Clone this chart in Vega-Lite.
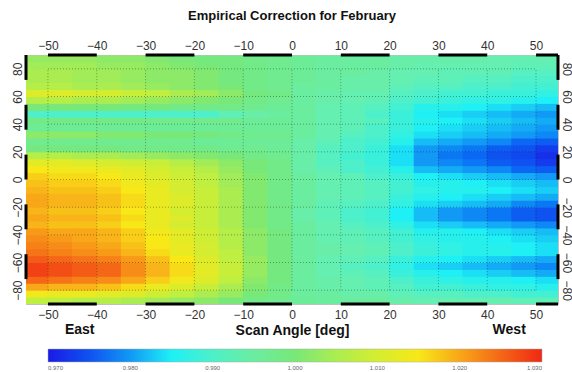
{
"$schema":"https://vega.github.io/schema/vega-lite/v6.json",
"width":532,"height":249,"autosize":"none",
"padding":{"left":26,"top":55,"right":14,"bottom":68},
"background":"white",
"title":{"text":"Empirical Correction for February","fontSize":13,"fontWeight":"bold","color":"#111","anchor":"middle","offset":16},
"config":{"font":"Liberation Sans","view":{"stroke":"#c0c0c0","strokeWidth":1},"rect":{"binSpacing":0},
"axis":{"ticks":false,"domain":false,"grid":false,"labelFontSize":12,"labelColor":"#333","labelFont":"Liberation Sans"}},
"datasets":{
"heat":[
{"a":-52.5,"l":87.5,"v":1.003},{"a":-47.5,"l":87.5,"v":1.003},{"a":-42.5,"l":87.5,"v":1.003},{"a":-37.5,"l":87.5,"v":1.002},{"a":-32.5,"l":87.5,"v":1.002},{"a":-27.5,"l":87.5,"v":1.001},{"a":-22.5,"l":87.5,"v":1.000},{"a":-17.5,"l":87.5,"v":0.999},{"a":-12.5,"l":87.5,"v":0.999},{"a":-7.5,"l":87.5,"v":0.998},{"a":-2.5,"l":87.5,"v":0.997},{"a":2.5,"l":87.5,"v":0.996},{"a":7.5,"l":87.5,"v":0.995},{"a":12.5,"l":87.5,"v":0.995},{"a":17.5,"l":87.5,"v":0.995},{"a":22.5,"l":87.5,"v":0.994},{"a":27.5,"l":87.5,"v":0.994},{"a":32.5,"l":87.5,"v":0.994},{"a":37.5,"l":87.5,"v":0.994},{"a":42.5,"l":87.5,"v":0.993},{"a":47.5,"l":87.5,"v":0.993},{"a":52.5,"l":87.5,"v":0.993},
{"a":-52.5,"l":82.5,"v":1.004},{"a":-47.5,"l":82.5,"v":1.004},{"a":-42.5,"l":82.5,"v":1.004},{"a":-37.5,"l":82.5,"v":1.003},{"a":-32.5,"l":82.5,"v":1.003},{"a":-27.5,"l":82.5,"v":1.002},{"a":-22.5,"l":82.5,"v":1.001},{"a":-17.5,"l":82.5,"v":1.000},{"a":-12.5,"l":82.5,"v":0.999},{"a":-7.5,"l":82.5,"v":0.998},{"a":-2.5,"l":82.5,"v":0.997},{"a":2.5,"l":82.5,"v":0.996},{"a":7.5,"l":82.5,"v":0.995},{"a":12.5,"l":82.5,"v":0.995},{"a":17.5,"l":82.5,"v":0.995},{"a":22.5,"l":82.5,"v":0.994},{"a":27.5,"l":82.5,"v":0.993},{"a":32.5,"l":82.5,"v":0.993},{"a":37.5,"l":82.5,"v":0.993},{"a":42.5,"l":82.5,"v":0.993},{"a":47.5,"l":82.5,"v":0.992},{"a":52.5,"l":82.5,"v":0.992},
{"a":-52.5,"l":77.5,"v":1.005},{"a":-47.5,"l":77.5,"v":1.005},{"a":-42.5,"l":77.5,"v":1.004},{"a":-37.5,"l":77.5,"v":1.004},{"a":-32.5,"l":77.5,"v":1.003},{"a":-27.5,"l":77.5,"v":1.002},{"a":-22.5,"l":77.5,"v":1.002},{"a":-17.5,"l":77.5,"v":1.001},{"a":-12.5,"l":77.5,"v":0.999},{"a":-7.5,"l":77.5,"v":0.998},{"a":-2.5,"l":77.5,"v":0.997},{"a":2.5,"l":77.5,"v":0.996},{"a":7.5,"l":77.5,"v":0.995},{"a":12.5,"l":77.5,"v":0.995},{"a":17.5,"l":77.5,"v":0.994},{"a":22.5,"l":77.5,"v":0.993},{"a":27.5,"l":77.5,"v":0.993},{"a":32.5,"l":77.5,"v":0.992},{"a":37.5,"l":77.5,"v":0.992},{"a":42.5,"l":77.5,"v":0.992},{"a":47.5,"l":77.5,"v":0.991},{"a":52.5,"l":77.5,"v":0.991},
{"a":-52.5,"l":72.5,"v":1.005},{"a":-47.5,"l":72.5,"v":1.005},{"a":-42.5,"l":72.5,"v":1.004},{"a":-37.5,"l":72.5,"v":1.004},{"a":-32.5,"l":72.5,"v":1.003},{"a":-27.5,"l":72.5,"v":1.002},{"a":-22.5,"l":72.5,"v":1.002},{"a":-17.5,"l":72.5,"v":1.001},{"a":-12.5,"l":72.5,"v":0.999},{"a":-7.5,"l":72.5,"v":0.998},{"a":-2.5,"l":72.5,"v":0.997},{"a":2.5,"l":72.5,"v":0.996},{"a":7.5,"l":72.5,"v":0.995},{"a":12.5,"l":72.5,"v":0.994},{"a":17.5,"l":72.5,"v":0.994},{"a":22.5,"l":72.5,"v":0.993},{"a":27.5,"l":72.5,"v":0.992},{"a":32.5,"l":72.5,"v":0.992},{"a":37.5,"l":72.5,"v":0.991},{"a":42.5,"l":72.5,"v":0.991},{"a":47.5,"l":72.5,"v":0.990},{"a":52.5,"l":72.5,"v":0.990},
{"a":-52.5,"l":67.5,"v":1.006},{"a":-47.5,"l":67.5,"v":1.006},{"a":-42.5,"l":67.5,"v":1.005},{"a":-37.5,"l":67.5,"v":1.005},{"a":-32.5,"l":67.5,"v":1.004},{"a":-27.5,"l":67.5,"v":1.003},{"a":-22.5,"l":67.5,"v":1.002},{"a":-17.5,"l":67.5,"v":1.001},{"a":-12.5,"l":67.5,"v":1.000},{"a":-7.5,"l":67.5,"v":0.998},{"a":-2.5,"l":67.5,"v":0.997},{"a":2.5,"l":67.5,"v":0.995},{"a":7.5,"l":67.5,"v":0.995},{"a":12.5,"l":67.5,"v":0.994},{"a":17.5,"l":67.5,"v":0.994},{"a":22.5,"l":67.5,"v":0.992},{"a":27.5,"l":67.5,"v":0.991},{"a":32.5,"l":67.5,"v":0.991},{"a":37.5,"l":67.5,"v":0.990},{"a":42.5,"l":67.5,"v":0.990},{"a":47.5,"l":67.5,"v":0.989},{"a":52.5,"l":67.5,"v":0.989},
{"a":-52.5,"l":62.5,"v":1.011},{"a":-47.5,"l":62.5,"v":1.011},{"a":-42.5,"l":62.5,"v":1.010},{"a":-37.5,"l":62.5,"v":1.010},{"a":-32.5,"l":62.5,"v":1.008},{"a":-27.5,"l":62.5,"v":1.007},{"a":-22.5,"l":62.5,"v":1.005},{"a":-17.5,"l":62.5,"v":1.004},{"a":-12.5,"l":62.5,"v":1.002},{"a":-7.5,"l":62.5,"v":0.999},{"a":-2.5,"l":62.5,"v":0.998},{"a":2.5,"l":62.5,"v":0.995},{"a":7.5,"l":62.5,"v":0.994},{"a":12.5,"l":62.5,"v":0.993},{"a":17.5,"l":62.5,"v":0.993},{"a":22.5,"l":62.5,"v":0.991},{"a":27.5,"l":62.5,"v":0.990},{"a":32.5,"l":62.5,"v":0.989},{"a":37.5,"l":62.5,"v":0.989},{"a":42.5,"l":62.5,"v":0.988},{"a":47.5,"l":62.5,"v":0.988},{"a":52.5,"l":62.5,"v":0.987},
{"a":-52.5,"l":57.5,"v":1.006},{"a":-47.5,"l":57.5,"v":1.006},{"a":-42.5,"l":57.5,"v":1.005},{"a":-37.5,"l":57.5,"v":1.005},{"a":-32.5,"l":57.5,"v":1.004},{"a":-27.5,"l":57.5,"v":1.003},{"a":-22.5,"l":57.5,"v":1.002},{"a":-17.5,"l":57.5,"v":1.001},{"a":-12.5,"l":57.5,"v":1.000},{"a":-7.5,"l":57.5,"v":0.998},{"a":-2.5,"l":57.5,"v":0.997},{"a":2.5,"l":57.5,"v":0.995},{"a":7.5,"l":57.5,"v":0.994},{"a":12.5,"l":57.5,"v":0.993},{"a":17.5,"l":57.5,"v":0.992},{"a":22.5,"l":57.5,"v":0.990},{"a":27.5,"l":57.5,"v":0.989},{"a":32.5,"l":57.5,"v":0.988},{"a":37.5,"l":57.5,"v":0.987},{"a":42.5,"l":57.5,"v":0.987},{"a":47.5,"l":57.5,"v":0.986},{"a":52.5,"l":57.5,"v":0.985},
{"a":-52.5,"l":52.5,"v":1.000},{"a":-47.5,"l":52.5,"v":1.000},{"a":-42.5,"l":52.5,"v":1.000},{"a":-37.5,"l":52.5,"v":1.000},{"a":-32.5,"l":52.5,"v":0.999},{"a":-27.5,"l":52.5,"v":0.999},{"a":-22.5,"l":52.5,"v":0.998},{"a":-17.5,"l":52.5,"v":0.998},{"a":-12.5,"l":52.5,"v":0.998},{"a":-7.5,"l":52.5,"v":0.997},{"a":-2.5,"l":52.5,"v":0.996},{"a":2.5,"l":52.5,"v":0.995},{"a":7.5,"l":52.5,"v":0.993},{"a":12.5,"l":52.5,"v":0.992},{"a":17.5,"l":52.5,"v":0.991},{"a":22.5,"l":52.5,"v":0.989},{"a":27.5,"l":52.5,"v":0.986},{"a":32.5,"l":52.5,"v":0.986},{"a":37.5,"l":52.5,"v":0.985},{"a":42.5,"l":52.5,"v":0.984},{"a":47.5,"l":52.5,"v":0.983},{"a":52.5,"l":52.5,"v":0.982},
{"a":-52.5,"l":47.5,"v":0.990},{"a":-47.5,"l":47.5,"v":0.990},{"a":-42.5,"l":47.5,"v":0.990},{"a":-37.5,"l":47.5,"v":0.990},{"a":-32.5,"l":47.5,"v":0.990},{"a":-27.5,"l":47.5,"v":0.990},{"a":-22.5,"l":47.5,"v":0.990},{"a":-17.5,"l":47.5,"v":0.990},{"a":-12.5,"l":47.5,"v":0.992},{"a":-7.5,"l":47.5,"v":0.994},{"a":-2.5,"l":47.5,"v":0.995},{"a":2.5,"l":47.5,"v":0.995},{"a":7.5,"l":47.5,"v":0.993},{"a":12.5,"l":47.5,"v":0.992},{"a":17.5,"l":47.5,"v":0.990},{"a":22.5,"l":47.5,"v":0.988},{"a":27.5,"l":47.5,"v":0.985},{"a":32.5,"l":47.5,"v":0.984},{"a":37.5,"l":47.5,"v":0.983},{"a":42.5,"l":47.5,"v":0.982},{"a":47.5,"l":47.5,"v":0.981},{"a":52.5,"l":47.5,"v":0.980},
{"a":-52.5,"l":42.5,"v":0.998},{"a":-47.5,"l":42.5,"v":0.998},{"a":-42.5,"l":42.5,"v":0.998},{"a":-37.5,"l":42.5,"v":0.998},{"a":-32.5,"l":42.5,"v":0.998},{"a":-27.5,"l":42.5,"v":0.997},{"a":-22.5,"l":42.5,"v":0.997},{"a":-17.5,"l":42.5,"v":0.997},{"a":-12.5,"l":42.5,"v":0.997},{"a":-7.5,"l":42.5,"v":0.996},{"a":-2.5,"l":42.5,"v":0.996},{"a":2.5,"l":42.5,"v":0.995},{"a":7.5,"l":42.5,"v":0.993},{"a":12.5,"l":42.5,"v":0.992},{"a":17.5,"l":42.5,"v":0.991},{"a":22.5,"l":42.5,"v":0.988},{"a":27.5,"l":42.5,"v":0.986},{"a":32.5,"l":42.5,"v":0.985},{"a":37.5,"l":42.5,"v":0.984},{"a":42.5,"l":42.5,"v":0.983},{"a":47.5,"l":42.5,"v":0.982},{"a":52.5,"l":42.5,"v":0.981},
{"a":-52.5,"l":37.5,"v":0.996},{"a":-47.5,"l":37.5,"v":0.996},{"a":-42.5,"l":37.5,"v":0.996},{"a":-37.5,"l":37.5,"v":0.996},{"a":-32.5,"l":37.5,"v":0.996},{"a":-27.5,"l":37.5,"v":0.996},{"a":-22.5,"l":37.5,"v":0.996},{"a":-17.5,"l":37.5,"v":0.996},{"a":-12.5,"l":37.5,"v":0.996},{"a":-7.5,"l":37.5,"v":0.996},{"a":-2.5,"l":37.5,"v":0.996},{"a":2.5,"l":37.5,"v":0.995},{"a":7.5,"l":37.5,"v":0.993},{"a":12.5,"l":37.5,"v":0.992},{"a":17.5,"l":37.5,"v":0.990},{"a":22.5,"l":37.5,"v":0.988},{"a":27.5,"l":37.5,"v":0.985},{"a":32.5,"l":37.5,"v":0.984},{"a":37.5,"l":37.5,"v":0.983},{"a":42.5,"l":37.5,"v":0.982},{"a":47.5,"l":37.5,"v":0.981},{"a":52.5,"l":37.5,"v":0.980},
{"a":-52.5,"l":32.5,"v":1.002},{"a":-47.5,"l":32.5,"v":1.002},{"a":-42.5,"l":32.5,"v":1.002},{"a":-37.5,"l":32.5,"v":1.001},{"a":-32.5,"l":32.5,"v":1.001},{"a":-27.5,"l":32.5,"v":1.000},{"a":-22.5,"l":32.5,"v":1.000},{"a":-17.5,"l":32.5,"v":0.999},{"a":-12.5,"l":32.5,"v":0.998},{"a":-7.5,"l":32.5,"v":0.997},{"a":-2.5,"l":32.5,"v":0.997},{"a":2.5,"l":32.5,"v":0.995},{"a":7.5,"l":32.5,"v":0.993},{"a":12.5,"l":32.5,"v":0.991},{"a":17.5,"l":32.5,"v":0.990},{"a":22.5,"l":32.5,"v":0.987},{"a":27.5,"l":32.5,"v":0.984},{"a":32.5,"l":32.5,"v":0.983},{"a":37.5,"l":32.5,"v":0.982},{"a":42.5,"l":32.5,"v":0.981},{"a":47.5,"l":32.5,"v":0.980},{"a":52.5,"l":32.5,"v":0.979},
{"a":-52.5,"l":27.5,"v":0.997},{"a":-47.5,"l":27.5,"v":0.997},{"a":-42.5,"l":27.5,"v":0.997},{"a":-37.5,"l":27.5,"v":0.997},{"a":-32.5,"l":27.5,"v":0.997},{"a":-27.5,"l":27.5,"v":0.997},{"a":-22.5,"l":27.5,"v":0.997},{"a":-17.5,"l":27.5,"v":0.996},{"a":-12.5,"l":27.5,"v":0.996},{"a":-7.5,"l":27.5,"v":0.996},{"a":-2.5,"l":27.5,"v":0.996},{"a":2.5,"l":27.5,"v":0.994},{"a":7.5,"l":27.5,"v":0.992},{"a":12.5,"l":27.5,"v":0.990},{"a":17.5,"l":27.5,"v":0.989},{"a":22.5,"l":27.5,"v":0.986},{"a":27.5,"l":27.5,"v":0.982},{"a":32.5,"l":27.5,"v":0.981},{"a":37.5,"l":27.5,"v":0.980},{"a":42.5,"l":27.5,"v":0.979},{"a":47.5,"l":27.5,"v":0.977},{"a":52.5,"l":27.5,"v":0.976},
{"a":-52.5,"l":22.5,"v":0.999},{"a":-47.5,"l":22.5,"v":0.999},{"a":-42.5,"l":22.5,"v":0.999},{"a":-37.5,"l":22.5,"v":0.999},{"a":-32.5,"l":22.5,"v":0.998},{"a":-27.5,"l":22.5,"v":0.998},{"a":-22.5,"l":22.5,"v":0.998},{"a":-17.5,"l":22.5,"v":0.998},{"a":-12.5,"l":22.5,"v":0.997},{"a":-7.5,"l":22.5,"v":0.997},{"a":-2.5,"l":22.5,"v":0.996},{"a":2.5,"l":22.5,"v":0.994},{"a":7.5,"l":22.5,"v":0.991},{"a":12.5,"l":22.5,"v":0.990},{"a":17.5,"l":22.5,"v":0.988},{"a":22.5,"l":22.5,"v":0.984},{"a":27.5,"l":22.5,"v":0.980},{"a":32.5,"l":22.5,"v":0.979},{"a":37.5,"l":22.5,"v":0.978},{"a":42.5,"l":22.5,"v":0.976},{"a":47.5,"l":22.5,"v":0.975},{"a":52.5,"l":22.5,"v":0.973},
{"a":-52.5,"l":17.5,"v":1.006},{"a":-47.5,"l":17.5,"v":1.006},{"a":-42.5,"l":17.5,"v":1.005},{"a":-37.5,"l":17.5,"v":1.005},{"a":-32.5,"l":17.5,"v":1.004},{"a":-27.5,"l":17.5,"v":1.003},{"a":-22.5,"l":17.5,"v":1.002},{"a":-17.5,"l":17.5,"v":1.001},{"a":-12.5,"l":17.5,"v":1.000},{"a":-7.5,"l":17.5,"v":0.998},{"a":-2.5,"l":17.5,"v":0.997},{"a":2.5,"l":17.5,"v":0.994},{"a":7.5,"l":17.5,"v":0.991},{"a":12.5,"l":17.5,"v":0.989},{"a":17.5,"l":17.5,"v":0.988},{"a":22.5,"l":17.5,"v":0.984},{"a":27.5,"l":17.5,"v":0.980},{"a":32.5,"l":17.5,"v":0.978},{"a":37.5,"l":17.5,"v":0.977},{"a":42.5,"l":17.5,"v":0.975},{"a":47.5,"l":17.5,"v":0.974},{"a":52.5,"l":17.5,"v":0.972},
{"a":-52.5,"l":12.5,"v":1.012},{"a":-47.5,"l":12.5,"v":1.012},{"a":-42.5,"l":12.5,"v":1.011},{"a":-37.5,"l":12.5,"v":1.010},{"a":-32.5,"l":12.5,"v":1.009},{"a":-27.5,"l":12.5,"v":1.008},{"a":-22.5,"l":12.5,"v":1.006},{"a":-17.5,"l":12.5,"v":1.004},{"a":-12.5,"l":12.5,"v":1.002},{"a":-7.5,"l":12.5,"v":1.000},{"a":-2.5,"l":12.5,"v":0.998},{"a":2.5,"l":12.5,"v":0.994},{"a":7.5,"l":12.5,"v":0.991},{"a":12.5,"l":12.5,"v":0.990},{"a":17.5,"l":12.5,"v":0.988},{"a":22.5,"l":12.5,"v":0.984},{"a":27.5,"l":12.5,"v":0.980},{"a":32.5,"l":12.5,"v":0.979},{"a":37.5,"l":12.5,"v":0.978},{"a":42.5,"l":12.5,"v":0.976},{"a":47.5,"l":12.5,"v":0.975},{"a":52.5,"l":12.5,"v":0.973},
{"a":-52.5,"l":7.5,"v":1.015},{"a":-47.5,"l":7.5,"v":1.014},{"a":-42.5,"l":7.5,"v":1.014},{"a":-37.5,"l":7.5,"v":1.013},{"a":-32.5,"l":7.5,"v":1.012},{"a":-27.5,"l":7.5,"v":1.010},{"a":-22.5,"l":7.5,"v":1.008},{"a":-17.5,"l":7.5,"v":1.006},{"a":-12.5,"l":7.5,"v":1.003},{"a":-7.5,"l":7.5,"v":1.000},{"a":-2.5,"l":7.5,"v":0.998},{"a":2.5,"l":7.5,"v":0.994},{"a":7.5,"l":7.5,"v":0.992},{"a":12.5,"l":7.5,"v":0.990},{"a":17.5,"l":7.5,"v":0.989},{"a":22.5,"l":7.5,"v":0.986},{"a":27.5,"l":7.5,"v":0.982},{"a":32.5,"l":7.5,"v":0.981},{"a":37.5,"l":7.5,"v":0.980},{"a":42.5,"l":7.5,"v":0.979},{"a":47.5,"l":7.5,"v":0.977},{"a":52.5,"l":7.5,"v":0.976},
{"a":-52.5,"l":2.5,"v":1.017},{"a":-47.5,"l":2.5,"v":1.016},{"a":-42.5,"l":2.5,"v":1.016},{"a":-37.5,"l":2.5,"v":1.015},{"a":-32.5,"l":2.5,"v":1.013},{"a":-27.5,"l":2.5,"v":1.011},{"a":-22.5,"l":2.5,"v":1.009},{"a":-17.5,"l":2.5,"v":1.007},{"a":-12.5,"l":2.5,"v":1.004},{"a":-7.5,"l":2.5,"v":1.001},{"a":-2.5,"l":2.5,"v":0.998},{"a":2.5,"l":2.5,"v":0.995},{"a":7.5,"l":2.5,"v":0.993},{"a":12.5,"l":2.5,"v":0.992},{"a":17.5,"l":2.5,"v":0.990},{"a":22.5,"l":2.5,"v":0.988},{"a":27.5,"l":2.5,"v":0.985},{"a":32.5,"l":2.5,"v":0.984},{"a":37.5,"l":2.5,"v":0.983},{"a":42.5,"l":2.5,"v":0.982},{"a":47.5,"l":2.5,"v":0.981},{"a":52.5,"l":2.5,"v":0.980},
{"a":-52.5,"l":-2.5,"v":1.018},{"a":-47.5,"l":-2.5,"v":1.017},{"a":-42.5,"l":-2.5,"v":1.017},{"a":-37.5,"l":-2.5,"v":1.016},{"a":-32.5,"l":-2.5,"v":1.014},{"a":-27.5,"l":-2.5,"v":1.012},{"a":-22.5,"l":-2.5,"v":1.010},{"a":-17.5,"l":-2.5,"v":1.007},{"a":-12.5,"l":-2.5,"v":1.004},{"a":-7.5,"l":-2.5,"v":1.001},{"a":-2.5,"l":-2.5,"v":0.998},{"a":2.5,"l":-2.5,"v":0.995},{"a":7.5,"l":-2.5,"v":0.993},{"a":12.5,"l":-2.5,"v":0.992},{"a":17.5,"l":-2.5,"v":0.991},{"a":22.5,"l":-2.5,"v":0.989},{"a":27.5,"l":-2.5,"v":0.986},{"a":32.5,"l":-2.5,"v":0.986},{"a":37.5,"l":-2.5,"v":0.985},{"a":42.5,"l":-2.5,"v":0.984},{"a":47.5,"l":-2.5,"v":0.983},{"a":52.5,"l":-2.5,"v":0.982},
{"a":-52.5,"l":-7.5,"v":1.019},{"a":-47.5,"l":-7.5,"v":1.018},{"a":-42.5,"l":-7.5,"v":1.018},{"a":-37.5,"l":-7.5,"v":1.017},{"a":-32.5,"l":-7.5,"v":1.015},{"a":-27.5,"l":-7.5,"v":1.013},{"a":-22.5,"l":-7.5,"v":1.010},{"a":-17.5,"l":-7.5,"v":1.008},{"a":-12.5,"l":-7.5,"v":1.005},{"a":-7.5,"l":-7.5,"v":1.001},{"a":-2.5,"l":-7.5,"v":0.998},{"a":2.5,"l":-7.5,"v":0.995},{"a":7.5,"l":-7.5,"v":0.993},{"a":12.5,"l":-7.5,"v":0.992},{"a":17.5,"l":-7.5,"v":0.991},{"a":22.5,"l":-7.5,"v":0.989},{"a":27.5,"l":-7.5,"v":0.987},{"a":32.5,"l":-7.5,"v":0.986},{"a":37.5,"l":-7.5,"v":0.986},{"a":42.5,"l":-7.5,"v":0.985},{"a":47.5,"l":-7.5,"v":0.984},{"a":52.5,"l":-7.5,"v":0.983},
{"a":-52.5,"l":-12.5,"v":1.020},{"a":-47.5,"l":-12.5,"v":1.019},{"a":-42.5,"l":-12.5,"v":1.019},{"a":-37.5,"l":-12.5,"v":1.018},{"a":-32.5,"l":-12.5,"v":1.016},{"a":-27.5,"l":-12.5,"v":1.013},{"a":-22.5,"l":-12.5,"v":1.011},{"a":-17.5,"l":-12.5,"v":1.008},{"a":-12.5,"l":-12.5,"v":1.005},{"a":-7.5,"l":-12.5,"v":1.001},{"a":-2.5,"l":-12.5,"v":0.998},{"a":2.5,"l":-12.5,"v":0.995},{"a":7.5,"l":-12.5,"v":0.993},{"a":12.5,"l":-12.5,"v":0.992},{"a":17.5,"l":-12.5,"v":0.991},{"a":22.5,"l":-12.5,"v":0.988},{"a":27.5,"l":-12.5,"v":0.986},{"a":32.5,"l":-12.5,"v":0.985},{"a":37.5,"l":-12.5,"v":0.984},{"a":42.5,"l":-12.5,"v":0.983},{"a":47.5,"l":-12.5,"v":0.982},{"a":52.5,"l":-12.5,"v":0.981},
{"a":-52.5,"l":-17.5,"v":1.020},{"a":-47.5,"l":-17.5,"v":1.019},{"a":-42.5,"l":-17.5,"v":1.019},{"a":-37.5,"l":-17.5,"v":1.018},{"a":-32.5,"l":-17.5,"v":1.016},{"a":-27.5,"l":-17.5,"v":1.013},{"a":-22.5,"l":-17.5,"v":1.011},{"a":-17.5,"l":-17.5,"v":1.008},{"a":-12.5,"l":-17.5,"v":1.005},{"a":-7.5,"l":-17.5,"v":1.001},{"a":-2.5,"l":-17.5,"v":0.998},{"a":2.5,"l":-17.5,"v":0.995},{"a":7.5,"l":-17.5,"v":0.992},{"a":12.5,"l":-17.5,"v":0.991},{"a":17.5,"l":-17.5,"v":0.990},{"a":22.5,"l":-17.5,"v":0.987},{"a":27.5,"l":-17.5,"v":0.984},{"a":32.5,"l":-17.5,"v":0.983},{"a":37.5,"l":-17.5,"v":0.982},{"a":42.5,"l":-17.5,"v":0.981},{"a":47.5,"l":-17.5,"v":0.979},{"a":52.5,"l":-17.5,"v":0.978},
{"a":-52.5,"l":-22.5,"v":1.019},{"a":-47.5,"l":-22.5,"v":1.018},{"a":-42.5,"l":-22.5,"v":1.018},{"a":-37.5,"l":-22.5,"v":1.017},{"a":-32.5,"l":-22.5,"v":1.015},{"a":-27.5,"l":-22.5,"v":1.013},{"a":-22.5,"l":-22.5,"v":1.010},{"a":-17.5,"l":-22.5,"v":1.008},{"a":-12.5,"l":-22.5,"v":1.005},{"a":-7.5,"l":-22.5,"v":1.001},{"a":-2.5,"l":-22.5,"v":0.998},{"a":2.5,"l":-22.5,"v":0.994},{"a":7.5,"l":-22.5,"v":0.992},{"a":12.5,"l":-22.5,"v":0.990},{"a":17.5,"l":-22.5,"v":0.989},{"a":22.5,"l":-22.5,"v":0.985},{"a":27.5,"l":-22.5,"v":0.982},{"a":32.5,"l":-22.5,"v":0.980},{"a":37.5,"l":-22.5,"v":0.979},{"a":42.5,"l":-22.5,"v":0.978},{"a":47.5,"l":-22.5,"v":0.976},{"a":52.5,"l":-22.5,"v":0.975},
{"a":-52.5,"l":-27.5,"v":1.020},{"a":-47.5,"l":-27.5,"v":1.019},{"a":-42.5,"l":-27.5,"v":1.019},{"a":-37.5,"l":-27.5,"v":1.018},{"a":-32.5,"l":-27.5,"v":1.016},{"a":-27.5,"l":-27.5,"v":1.013},{"a":-22.5,"l":-27.5,"v":1.011},{"a":-17.5,"l":-27.5,"v":1.008},{"a":-12.5,"l":-27.5,"v":1.005},{"a":-7.5,"l":-27.5,"v":1.001},{"a":-2.5,"l":-27.5,"v":0.998},{"a":2.5,"l":-27.5,"v":0.994},{"a":7.5,"l":-27.5,"v":0.992},{"a":12.5,"l":-27.5,"v":0.990},{"a":17.5,"l":-27.5,"v":0.989},{"a":22.5,"l":-27.5,"v":0.985},{"a":27.5,"l":-27.5,"v":0.982},{"a":32.5,"l":-27.5,"v":0.980},{"a":37.5,"l":-27.5,"v":0.979},{"a":42.5,"l":-27.5,"v":0.978},{"a":47.5,"l":-27.5,"v":0.976},{"a":52.5,"l":-27.5,"v":0.975},
{"a":-52.5,"l":-32.5,"v":1.019},{"a":-47.5,"l":-32.5,"v":1.018},{"a":-42.5,"l":-32.5,"v":1.018},{"a":-37.5,"l":-32.5,"v":1.017},{"a":-32.5,"l":-32.5,"v":1.015},{"a":-27.5,"l":-32.5,"v":1.013},{"a":-22.5,"l":-32.5,"v":1.010},{"a":-17.5,"l":-32.5,"v":1.008},{"a":-12.5,"l":-32.5,"v":1.005},{"a":-7.5,"l":-32.5,"v":1.001},{"a":-2.5,"l":-32.5,"v":0.998},{"a":2.5,"l":-32.5,"v":0.995},{"a":7.5,"l":-32.5,"v":0.993},{"a":12.5,"l":-32.5,"v":0.991},{"a":17.5,"l":-32.5,"v":0.990},{"a":22.5,"l":-32.5,"v":0.987},{"a":27.5,"l":-32.5,"v":0.984},{"a":32.5,"l":-32.5,"v":0.983},{"a":37.5,"l":-32.5,"v":0.982},{"a":42.5,"l":-32.5,"v":0.981},{"a":47.5,"l":-32.5,"v":0.980},{"a":52.5,"l":-32.5,"v":0.979},
{"a":-52.5,"l":-37.5,"v":1.021},{"a":-47.5,"l":-37.5,"v":1.020},{"a":-42.5,"l":-37.5,"v":1.020},{"a":-37.5,"l":-37.5,"v":1.019},{"a":-32.5,"l":-37.5,"v":1.017},{"a":-27.5,"l":-37.5,"v":1.014},{"a":-22.5,"l":-37.5,"v":1.012},{"a":-17.5,"l":-37.5,"v":1.009},{"a":-12.5,"l":-37.5,"v":1.006},{"a":-7.5,"l":-37.5,"v":1.002},{"a":-2.5,"l":-37.5,"v":0.999},{"a":2.5,"l":-37.5,"v":0.995},{"a":7.5,"l":-37.5,"v":0.993},{"a":12.5,"l":-37.5,"v":0.992},{"a":17.5,"l":-37.5,"v":0.991},{"a":22.5,"l":-37.5,"v":0.989},{"a":27.5,"l":-37.5,"v":0.986},{"a":32.5,"l":-37.5,"v":0.986},{"a":37.5,"l":-37.5,"v":0.985},{"a":42.5,"l":-37.5,"v":0.984},{"a":47.5,"l":-37.5,"v":0.983},{"a":52.5,"l":-37.5,"v":0.982},
{"a":-52.5,"l":-42.5,"v":1.022},{"a":-47.5,"l":-42.5,"v":1.021},{"a":-42.5,"l":-42.5,"v":1.020},{"a":-37.5,"l":-42.5,"v":1.019},{"a":-32.5,"l":-42.5,"v":1.017},{"a":-27.5,"l":-42.5,"v":1.015},{"a":-22.5,"l":-42.5,"v":1.012},{"a":-17.5,"l":-42.5,"v":1.009},{"a":-12.5,"l":-42.5,"v":1.006},{"a":-7.5,"l":-42.5,"v":1.002},{"a":-2.5,"l":-42.5,"v":0.999},{"a":2.5,"l":-42.5,"v":0.995},{"a":7.5,"l":-42.5,"v":0.993},{"a":12.5,"l":-42.5,"v":0.992},{"a":17.5,"l":-42.5,"v":0.991},{"a":22.5,"l":-42.5,"v":0.989},{"a":27.5,"l":-42.5,"v":0.987},{"a":32.5,"l":-42.5,"v":0.986},{"a":37.5,"l":-42.5,"v":0.986},{"a":42.5,"l":-42.5,"v":0.985},{"a":47.5,"l":-42.5,"v":0.984},{"a":52.5,"l":-42.5,"v":0.983},
{"a":-52.5,"l":-47.5,"v":1.023},{"a":-47.5,"l":-47.5,"v":1.022},{"a":-42.5,"l":-47.5,"v":1.021},{"a":-37.5,"l":-47.5,"v":1.020},{"a":-32.5,"l":-47.5,"v":1.018},{"a":-27.5,"l":-47.5,"v":1.015},{"a":-22.5,"l":-47.5,"v":1.013},{"a":-17.5,"l":-47.5,"v":1.010},{"a":-12.5,"l":-47.5,"v":1.006},{"a":-7.5,"l":-47.5,"v":1.002},{"a":-2.5,"l":-47.5,"v":0.999},{"a":2.5,"l":-47.5,"v":0.995},{"a":7.5,"l":-47.5,"v":0.994},{"a":12.5,"l":-47.5,"v":0.993},{"a":17.5,"l":-47.5,"v":0.992},{"a":22.5,"l":-47.5,"v":0.990},{"a":27.5,"l":-47.5,"v":0.988},{"a":32.5,"l":-47.5,"v":0.987},{"a":37.5,"l":-47.5,"v":0.986},{"a":42.5,"l":-47.5,"v":0.986},{"a":47.5,"l":-47.5,"v":0.985},{"a":52.5,"l":-47.5,"v":0.984},
{"a":-52.5,"l":-52.5,"v":1.024},{"a":-47.5,"l":-52.5,"v":1.023},{"a":-42.5,"l":-52.5,"v":1.022},{"a":-37.5,"l":-52.5,"v":1.021},{"a":-32.5,"l":-52.5,"v":1.019},{"a":-27.5,"l":-52.5,"v":1.016},{"a":-22.5,"l":-52.5,"v":1.013},{"a":-17.5,"l":-52.5,"v":1.010},{"a":-12.5,"l":-52.5,"v":1.007},{"a":-7.5,"l":-52.5,"v":1.002},{"a":-2.5,"l":-52.5,"v":0.999},{"a":2.5,"l":-52.5,"v":0.995},{"a":7.5,"l":-52.5,"v":0.994},{"a":12.5,"l":-52.5,"v":0.993},{"a":17.5,"l":-52.5,"v":0.992},{"a":22.5,"l":-52.5,"v":0.990},{"a":27.5,"l":-52.5,"v":0.988},{"a":32.5,"l":-52.5,"v":0.987},{"a":37.5,"l":-52.5,"v":0.986},{"a":42.5,"l":-52.5,"v":0.986},{"a":47.5,"l":-52.5,"v":0.985},{"a":52.5,"l":-52.5,"v":0.984},
{"a":-52.5,"l":-57.5,"v":1.026},{"a":-47.5,"l":-57.5,"v":1.025},{"a":-42.5,"l":-57.5,"v":1.024},{"a":-37.5,"l":-57.5,"v":1.023},{"a":-32.5,"l":-57.5,"v":1.021},{"a":-27.5,"l":-57.5,"v":1.018},{"a":-22.5,"l":-57.5,"v":1.015},{"a":-17.5,"l":-57.5,"v":1.011},{"a":-12.5,"l":-57.5,"v":1.007},{"a":-7.5,"l":-57.5,"v":1.003},{"a":-2.5,"l":-57.5,"v":0.999},{"a":2.5,"l":-57.5,"v":0.995},{"a":7.5,"l":-57.5,"v":0.993},{"a":12.5,"l":-57.5,"v":0.992},{"a":17.5,"l":-57.5,"v":0.991},{"a":22.5,"l":-57.5,"v":0.988},{"a":27.5,"l":-57.5,"v":0.986},{"a":32.5,"l":-57.5,"v":0.985},{"a":37.5,"l":-57.5,"v":0.984},{"a":42.5,"l":-57.5,"v":0.983},{"a":47.5,"l":-57.5,"v":0.982},{"a":52.5,"l":-57.5,"v":0.981},
{"a":-52.5,"l":-62.5,"v":1.028},{"a":-47.5,"l":-62.5,"v":1.027},{"a":-42.5,"l":-62.5,"v":1.026},{"a":-37.5,"l":-62.5,"v":1.025},{"a":-32.5,"l":-62.5,"v":1.022},{"a":-27.5,"l":-62.5,"v":1.019},{"a":-22.5,"l":-62.5,"v":1.016},{"a":-17.5,"l":-62.5,"v":1.012},{"a":-12.5,"l":-62.5,"v":1.008},{"a":-7.5,"l":-62.5,"v":1.003},{"a":-2.5,"l":-62.5,"v":0.999},{"a":2.5,"l":-62.5,"v":0.995},{"a":7.5,"l":-62.5,"v":0.993},{"a":12.5,"l":-62.5,"v":0.991},{"a":17.5,"l":-62.5,"v":0.990},{"a":22.5,"l":-62.5,"v":0.987},{"a":27.5,"l":-62.5,"v":0.984},{"a":32.5,"l":-62.5,"v":0.983},{"a":37.5,"l":-62.5,"v":0.982},{"a":42.5,"l":-62.5,"v":0.981},{"a":47.5,"l":-62.5,"v":0.980},{"a":52.5,"l":-62.5,"v":0.979},
{"a":-52.5,"l":-67.5,"v":1.028},{"a":-47.5,"l":-67.5,"v":1.027},{"a":-42.5,"l":-67.5,"v":1.026},{"a":-37.5,"l":-67.5,"v":1.025},{"a":-32.5,"l":-67.5,"v":1.022},{"a":-27.5,"l":-67.5,"v":1.019},{"a":-22.5,"l":-67.5,"v":1.016},{"a":-17.5,"l":-67.5,"v":1.012},{"a":-12.5,"l":-67.5,"v":1.008},{"a":-7.5,"l":-67.5,"v":1.003},{"a":-2.5,"l":-67.5,"v":0.999},{"a":2.5,"l":-67.5,"v":0.995},{"a":7.5,"l":-67.5,"v":0.993},{"a":12.5,"l":-67.5,"v":0.992},{"a":17.5,"l":-67.5,"v":0.991},{"a":22.5,"l":-67.5,"v":0.988},{"a":27.5,"l":-67.5,"v":0.986},{"a":32.5,"l":-67.5,"v":0.985},{"a":37.5,"l":-67.5,"v":0.984},{"a":42.5,"l":-67.5,"v":0.983},{"a":47.5,"l":-67.5,"v":0.982},{"a":52.5,"l":-67.5,"v":0.981},
{"a":-52.5,"l":-72.5,"v":1.025},{"a":-47.5,"l":-72.5,"v":1.024},{"a":-42.5,"l":-72.5,"v":1.023},{"a":-37.5,"l":-72.5,"v":1.022},{"a":-32.5,"l":-72.5,"v":1.020},{"a":-27.5,"l":-72.5,"v":1.017},{"a":-22.5,"l":-72.5,"v":1.014},{"a":-17.5,"l":-72.5,"v":1.011},{"a":-12.5,"l":-72.5,"v":1.007},{"a":-7.5,"l":-72.5,"v":1.002},{"a":-2.5,"l":-72.5,"v":0.999},{"a":2.5,"l":-72.5,"v":0.995},{"a":7.5,"l":-72.5,"v":0.994},{"a":12.5,"l":-72.5,"v":0.993},{"a":17.5,"l":-72.5,"v":0.992},{"a":22.5,"l":-72.5,"v":0.990},{"a":27.5,"l":-72.5,"v":0.988},{"a":32.5,"l":-72.5,"v":0.987},{"a":37.5,"l":-72.5,"v":0.986},{"a":42.5,"l":-72.5,"v":0.986},{"a":47.5,"l":-72.5,"v":0.985},{"a":52.5,"l":-72.5,"v":0.984},
{"a":-52.5,"l":-77.5,"v":1.020},{"a":-47.5,"l":-77.5,"v":1.019},{"a":-42.5,"l":-77.5,"v":1.019},{"a":-37.5,"l":-77.5,"v":1.018},{"a":-32.5,"l":-77.5,"v":1.016},{"a":-27.5,"l":-77.5,"v":1.013},{"a":-22.5,"l":-77.5,"v":1.011},{"a":-17.5,"l":-77.5,"v":1.008},{"a":-12.5,"l":-77.5,"v":1.005},{"a":-7.5,"l":-77.5,"v":1.001},{"a":-2.5,"l":-77.5,"v":0.998},{"a":2.5,"l":-77.5,"v":0.995},{"a":7.5,"l":-77.5,"v":0.994},{"a":12.5,"l":-77.5,"v":0.993},{"a":17.5,"l":-77.5,"v":0.992},{"a":22.5,"l":-77.5,"v":0.991},{"a":27.5,"l":-77.5,"v":0.989},{"a":32.5,"l":-77.5,"v":0.989},{"a":37.5,"l":-77.5,"v":0.988},{"a":42.5,"l":-77.5,"v":0.987},{"a":47.5,"l":-77.5,"v":0.987},{"a":52.5,"l":-77.5,"v":0.986},
{"a":-52.5,"l":-82.5,"v":1.014},{"a":-47.5,"l":-82.5,"v":1.013},{"a":-42.5,"l":-82.5,"v":1.013},{"a":-37.5,"l":-82.5,"v":1.012},{"a":-32.5,"l":-82.5,"v":1.011},{"a":-27.5,"l":-82.5,"v":1.009},{"a":-22.5,"l":-82.5,"v":1.007},{"a":-17.5,"l":-82.5,"v":1.005},{"a":-12.5,"l":-82.5,"v":1.003},{"a":-7.5,"l":-82.5,"v":1.000},{"a":-2.5,"l":-82.5,"v":0.998},{"a":2.5,"l":-82.5,"v":0.995},{"a":7.5,"l":-82.5,"v":0.995},{"a":12.5,"l":-82.5,"v":0.994},{"a":17.5,"l":-82.5,"v":0.994},{"a":22.5,"l":-82.5,"v":0.992},{"a":27.5,"l":-82.5,"v":0.991},{"a":32.5,"l":-82.5,"v":0.991},{"a":37.5,"l":-82.5,"v":0.990},{"a":42.5,"l":-82.5,"v":0.990},{"a":47.5,"l":-82.5,"v":0.989},{"a":52.5,"l":-82.5,"v":0.989},
{"a":-52.5,"l":-87.5,"v":1.007},{"a":-47.5,"l":-87.5,"v":1.007},{"a":-42.5,"l":-87.5,"v":1.006},{"a":-37.5,"l":-87.5,"v":1.006},{"a":-32.5,"l":-87.5,"v":1.005},{"a":-27.5,"l":-87.5,"v":1.004},{"a":-22.5,"l":-87.5,"v":1.003},{"a":-17.5,"l":-87.5,"v":1.002},{"a":-12.5,"l":-87.5,"v":1.000},{"a":-7.5,"l":-87.5,"v":0.998},{"a":-2.5,"l":-87.5,"v":0.997},{"a":2.5,"l":-87.5,"v":0.996},{"a":7.5,"l":-87.5,"v":0.995},{"a":12.5,"l":-87.5,"v":0.995},{"a":17.5,"l":-87.5,"v":0.995},{"a":22.5,"l":-87.5,"v":0.994},{"a":27.5,"l":-87.5,"v":0.993},{"a":32.5,"l":-87.5,"v":0.993},{"a":37.5,"l":-87.5,"v":0.993},{"a":42.5,"l":-87.5,"v":0.993},{"a":47.5,"l":-87.5,"v":0.992},{"a":52.5,"l":-87.5,"v":0.992}
],
"gridv":[{"a":-50},{"a":-40},{"a":-30},{"a":-20},{"a":-10},{"a":0},{"a":10},{"a":20},{"a":30},{"a":40},{"a":50}],
"gridh":[{"l":80},{"l":60},{"l":40},{"l":20},{"l":0},{"l":-20},{"l":-40},{"l":-60},{"l":-80}],
"barsx":[{"a0":-50,"a1":-40},{"a0":-30,"a1":-20},{"a0":-10,"a1":0},{"a0":10,"a1":20},{"a0":30,"a1":40},{"a0":50,"a1":54.5}],
"barsy":[{"l0":72,"l1":90},{"l0":36,"l1":54},{"l0":0,"l1":18},{"l0":-36,"l1":-18},{"l0":-72,"l1":-54}],
"sides":[{"t":"East","a":-43.5},{"t":"West","a":44.5}]
},
"layer":[
{"data":{"name":"heat"},"mark":{"type":"rect","clip":true,"binSpacing":0,"x2Offset":-0.8,"y2Offset":0.8},
"encoding":{
"x":{"field":"a","type":"quantitative","bin":{"extent":[-55,55],"step":5},"scale":{"domain":[-54.5,54.5],"nice":false,"zero":false},
"axis":{"orient":"bottom","values":[-50,-40,-30,-20,-10,0,10,20,30,40,50],"labelPadding":5,"title":"Scan Angle [deg]","titleFontSize":14,"titleFontWeight":"bold","titleColor":"#111","titlePadding":3}},
"y":{"field":"l","type":"quantitative","bin":{"extent":[-90,90],"step":5},"scale":{"domain":[-90,90],"nice":false,"zero":false},
"axis":{"orient":"left","values":[-80,-60,-40,-20,0,20,40,60,80],"labelAngle":-90,"labelPadding":2,"title":null}},
"color":{"field":"v","type":"quantitative",
"scale":{"domain":[0.97,0.9775,0.985,0.9925,1.0,1.0075,1.015,1.021,1.03],"range":["#1a1ae6","#0a6ef5","#1ef0f5","#64f0b4","#78e878","#c4f03c","#f8e818","#f89a18","#f02814"],"interpolate":"rgb"},
"legend":{"type":"gradient","orient":"none","legendX":22,"legendY":294,"direction":"horizontal","gradientLength":494,"gradientThickness":13,"title":null,"values":[0.97,0.98,0.99,1.0,1.01,1.02,1.03],"format":".3f","labelFontSize":6,"labelColor":"#666","labelOffset":3,"labelAlign":"center","gradientStrokeColor":"#aaa","gradientStrokeWidth":0.5}}
}},
{"data":{"name":"gridv"},"mark":{"type":"rule","strokeDash":[1,2],"color":"#000","opacity":0.35,"strokeWidth":1},
"encoding":{
"x":{"field":"a","type":"quantitative","scale":{"domain":[-54.5,54.5],"nice":false,"zero":false},
"axis":{"orient":"top","values":[-50,-40,-30,-20,-10,0,10,20,30,40,50],"labelPadding":3,"title":null}},
"y":{"datum":-80,"type":"quantitative","axis":null},"y2":{"datum":80}}},
{"data":{"name":"gridh"},"mark":{"type":"rule","strokeDash":[1,2],"color":"#000","opacity":0.35,"strokeWidth":1},
"encoding":{
"y":{"field":"l","type":"quantitative","scale":{"domain":[-90,90],"nice":false,"zero":false},
"axis":{"orient":"right","values":[-80,-60,-40,-20,0,20,40,60,80],"labelAngle":90,"labelPadding":1,"title":null}},
"x":{"datum":-50,"type":"quantitative","axis":null},"x2":{"datum":50}}},
{"data":{"name":"barsx"},"mark":{"type":"rule","color":"#000","strokeWidth":3},
"encoding":{"x":{"field":"a0","type":"quantitative","axis":null},"x2":{"field":"a1"},"y":{"datum":90,"type":"quantitative","axis":null}}},
{"data":{"name":"barsx"},"mark":{"type":"rule","color":"#000","strokeWidth":3},
"encoding":{"x":{"field":"a0","type":"quantitative","axis":null},"x2":{"field":"a1"},"y":{"datum":-90,"type":"quantitative","axis":null}}},
{"data":{"name":"barsy"},"mark":{"type":"rule","color":"#000","strokeWidth":3},
"encoding":{"y":{"field":"l0","type":"quantitative","axis":null},"y2":{"field":"l1"},"x":{"datum":-54.5,"type":"quantitative","axis":null}}},
{"data":{"name":"barsy"},"mark":{"type":"rule","color":"#000","strokeWidth":3},
"encoding":{"y":{"field":"l0","type":"quantitative","axis":null},"y2":{"field":"l1"},"x":{"datum":54.5,"type":"quantitative","axis":null}}},
{"data":{"name":"sides"},"mark":{"type":"text","fontSize":14,"fontWeight":"bold","color":"#111","baseline":"middle","align":"center"},
"encoding":{"x":{"field":"a","type":"quantitative","axis":null},"y":{"datum":-109,"type":"quantitative","axis":null},"text":{"field":"t"}}}
],
"resolve":{"axis":{"x":"independent","y":"independent"}}
}
